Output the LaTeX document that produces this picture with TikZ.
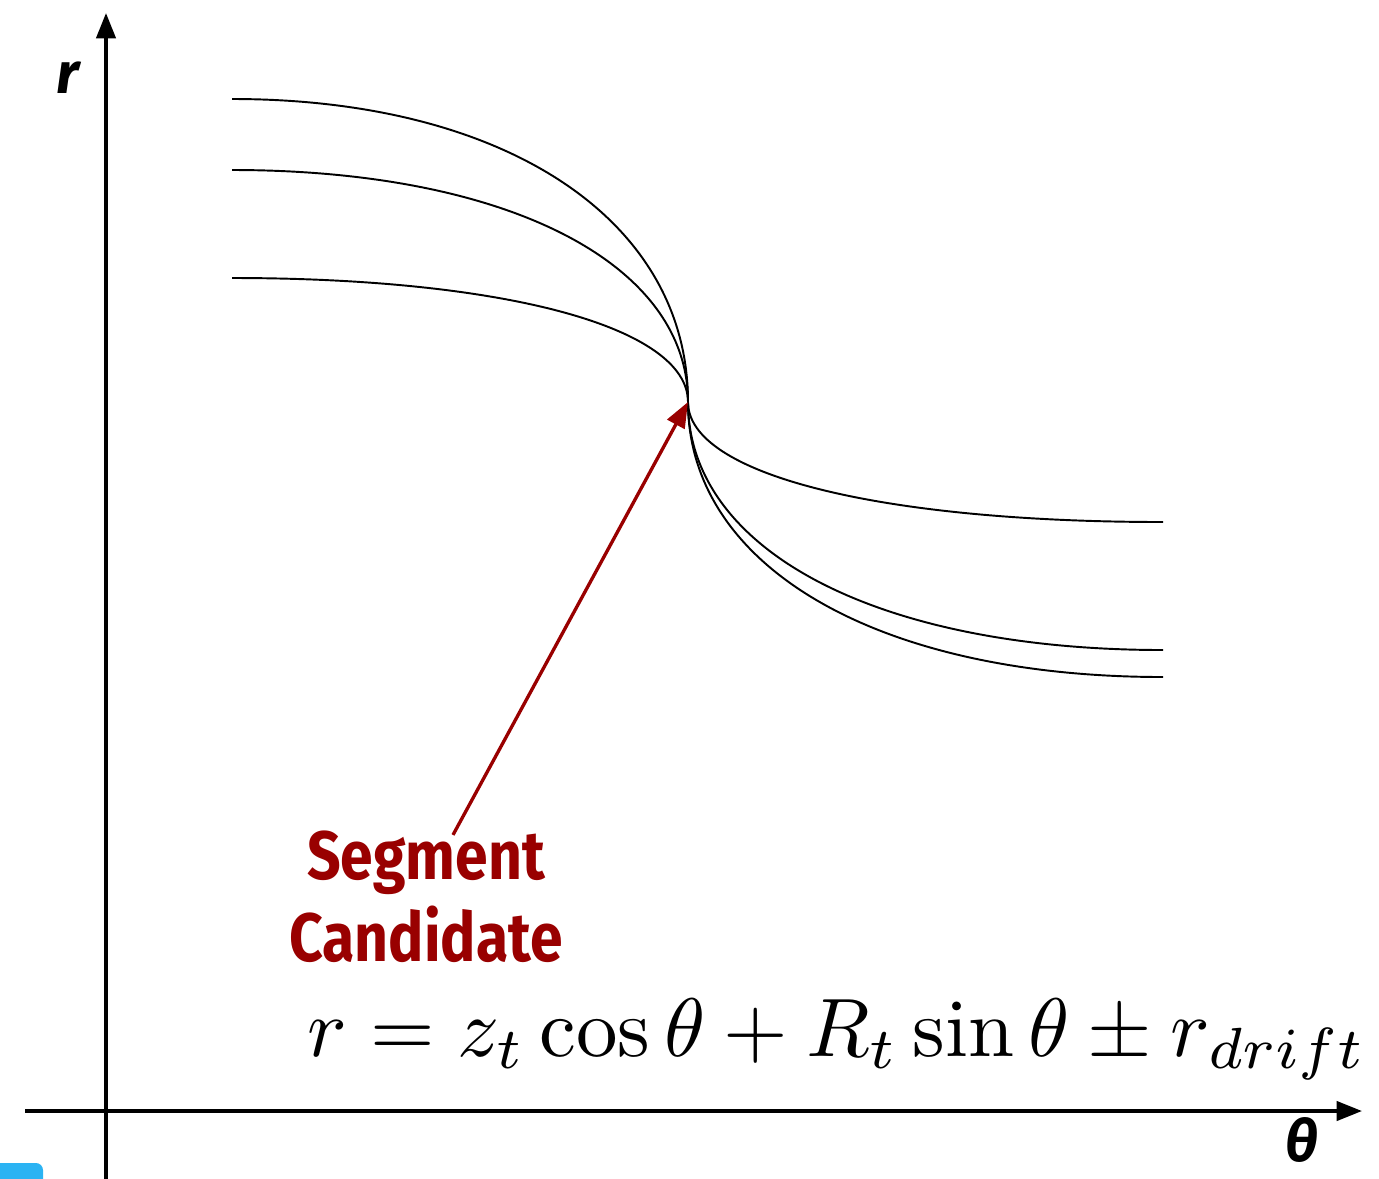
\documentclass[tikz,border=0pt]{standalone}
\usepackage{amsmath}
\usepackage{fontspec}
\usepackage{tikz}
\usetikzlibrary{arrows.meta, positioning, calc}
\newfontfamily\labelfont[FakeStretch=0.86]{Fira Sans}
\newfontfamily\axisfont{Fira Sans}
\definecolor{segred}{HTML}{990000}
\definecolor{tabblue}{HTML}{2BB3F3}
\tikzset{
  >={Triangle[length=14.5pt,width=11pt]},
  axis/.style={->, line width=2pt, draw=black},
  track/.style={line width=1.1pt, draw=black},
  segarrow/.style={->, line width=1.9pt, draw=segred},
  axlab/.style={font=\axisfont\fontsize{33}{40}\selectfont\bfseries\itshape, inner sep=0pt},
  seglab/.style={
    font=\labelfont\fontsize{39}{46.5}\selectfont\bfseries,
    text=segred, align=center, inner sep=0pt
  },
  eqlab/.style={inner sep=0pt}
}
\begin{document}
\begin{tikzpicture}[x=0.02cm, y=-0.02cm]
  \useasboundingbox (0,0) rectangle (1379,1178);
  \fill[tabblue, rounded corners=4pt] (-10,1163) rectangle (43,1200);
  % axes
  \coordinate (rbot) at (106,1190);
  \coordinate (rtop) at (106,13);
  \coordinate (tleft) at (25,1111);
  \coordinate (tright) at (1362,1111);
  \draw[axis] (rbot) -- (rtop);
  \draw[axis] (tleft) -- (tright);
  \node[axlab] (rlab) at (68,78) {r};
  \node[axlab] (thlab) at (1302,1140) {θ};
  % tracks through the segment
  \coordinate (cross) at (688,402);
  \foreach \ya/\yb in {99/677, 170/650, 278/522} {
    \draw[track] (232,\ya) .. controls (506,\ya) and (688,{402-0.6*(402-\ya)}) .. (cross)
      .. controls (688,{402+0.6*(\yb-402)}) and (878,\yb) .. (1163,\yb);
  }
  \node[seglab] (seg) at (426,897) {Segment\\Candidate};
  \draw[segarrow] ($(seg.north)+(27,4)$) -- (cross);
  \node[eqlab, anchor=base west] (eq) at (307,1056)
    {\scalebox{4.72}{$r = z_t\cos\theta + R_t\sin\theta \pm r_{drift}$}};
\end{tikzpicture}
\end{document}
